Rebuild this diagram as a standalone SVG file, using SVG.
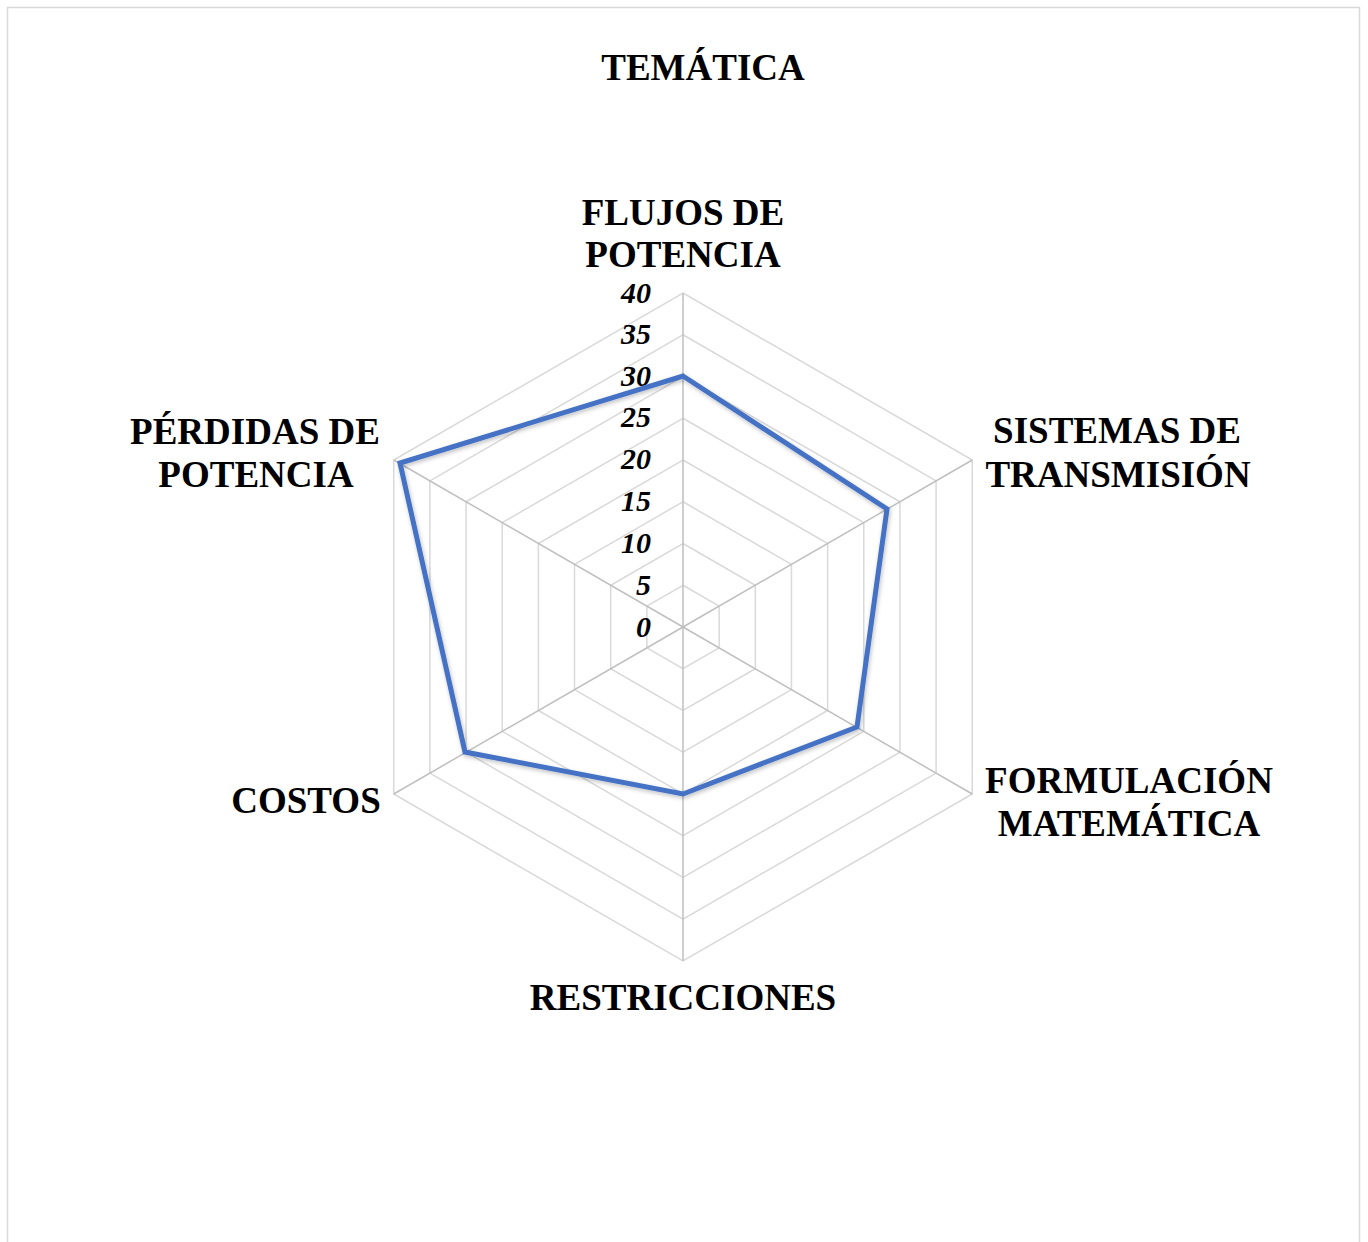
<svg xmlns="http://www.w3.org/2000/svg" width="1368" height="1242" viewBox="0 0 1368 1242">
<style>
.lbl{font-family:"Liberation Serif","Times New Roman",serif;font-weight:bold;font-size:37px;fill:#000;text-anchor:middle}
.tick{font-family:"Liberation Serif","Times New Roman",serif;font-weight:bold;font-style:italic;font-size:30px;fill:#000;text-anchor:end}
.ring{fill:none;stroke:#d9d9d9;stroke-width:1.5}
.spoke{stroke:#bfbfbf;stroke-width:1.5}
.data{fill:none;stroke:#4472C4;stroke-width:5;stroke-linejoin:miter}
</style>
<defs>
<filter id="sh" x="-10%" y="-10%" width="120%" height="120%">
<feDropShadow dx="1" dy="2" stdDeviation="2" flood-color="#000" flood-opacity="0.25"/>
</filter>
</defs>
<rect x="7.5" y="7.5" width="1352" height="1250" fill="#fff" stroke="#d9d9d9" stroke-width="1.5"/>
<text id="title" class="lbl" x="703" y="80">TEMÁTICA</text>
<g id="grid">
<polygon class="ring" points="683,585.25 719.16,606.13 719.16,647.88 683,668.75 646.84,647.88 646.84,606.13"/>
<polygon class="ring" points="683,543.5 755.31,585.25 755.31,668.75 683,710.5 610.69,668.75 610.69,585.25"/>
<polygon class="ring" points="683,501.75 791.47,564.38 791.47,689.63 683,752.25 574.53,689.63 574.53,564.38"/>
<polygon class="ring" points="683,460 827.63,543.5 827.63,710.5 683,794 538.37,710.5 538.37,543.5"/>
<polygon class="ring" points="683,418.25 863.78,522.63 863.78,731.38 683,835.75 502.22,731.38 502.22,522.63"/>
<polygon class="ring" points="683,376.5 899.94,501.75 899.94,752.25 683,877.5 466.06,752.25 466.06,501.75"/>
<polygon class="ring" points="683,334.75 936.1,480.88 936.1,773.13 683,919.25 429.9,773.13 429.9,480.88"/>
<polygon class="ring" points="683,293 972.25,460 972.25,794 683,961 393.75,794 393.75,460"/>
</g>
<g id="connectors">
<line class="spoke" x1="683" y1="627" x2="683" y2="293"/>
<line class="spoke" x1="683" y1="627" x2="972.25" y2="460"/>
<line class="spoke" x1="683" y1="627" x2="972.25" y2="794"/>
<line class="spoke" x1="683" y1="627" x2="683" y2="961"/>
<line class="spoke" x1="683" y1="627" x2="393.75" y2="794"/>
<line class="spoke" x1="683" y1="627" x2="393.75" y2="460"/>
</g>
<g id="ticks">
<text class="tick" x="651" y="303">40</text>
<text class="tick" x="651" y="344">35</text>
<text class="tick" x="651" y="386">30</text>
<text class="tick" x="651" y="427">25</text>
<text class="tick" x="651" y="469">20</text>
<text class="tick" x="651" y="511">15</text>
<text class="tick" x="651" y="553">10</text>
<text class="tick" x="651" y="595">5</text>
<text class="tick" x="651" y="637">0</text>
</g>
<g id="series">
<polygon class="data" filter="url(#sh)" points="683,376 887,509 857,727 683,794 465,752 400,463"/>
</g>
<g id="node-flujos"><text class="lbl" x="683" y="225">FLUJOS DE</text><text class="lbl" x="683" y="267">POTENCIA</text></g>
<g id="node-sistemas"><text class="lbl" x="1117" y="443">SISTEMAS DE</text><text class="lbl" x="1118" y="487">TRANSMISIÓN</text></g>
<g id="node-formulacion"><text class="lbl" x="1129" y="793">FORMULACIÓN</text><text class="lbl" x="1129" y="836">MATEMÁTICA</text></g>
<g id="node-restricciones"><text class="lbl" x="683" y="1010">RESTRICCIONES</text></g>
<g id="node-costos"><text class="lbl" x="306" y="813">COSTOS</text></g>
<g id="node-perdidas"><text class="lbl" x="255" y="444">PÉRDIDAS DE</text><text class="lbl" x="256" y="487">POTENCIA</text></g>
</svg>
